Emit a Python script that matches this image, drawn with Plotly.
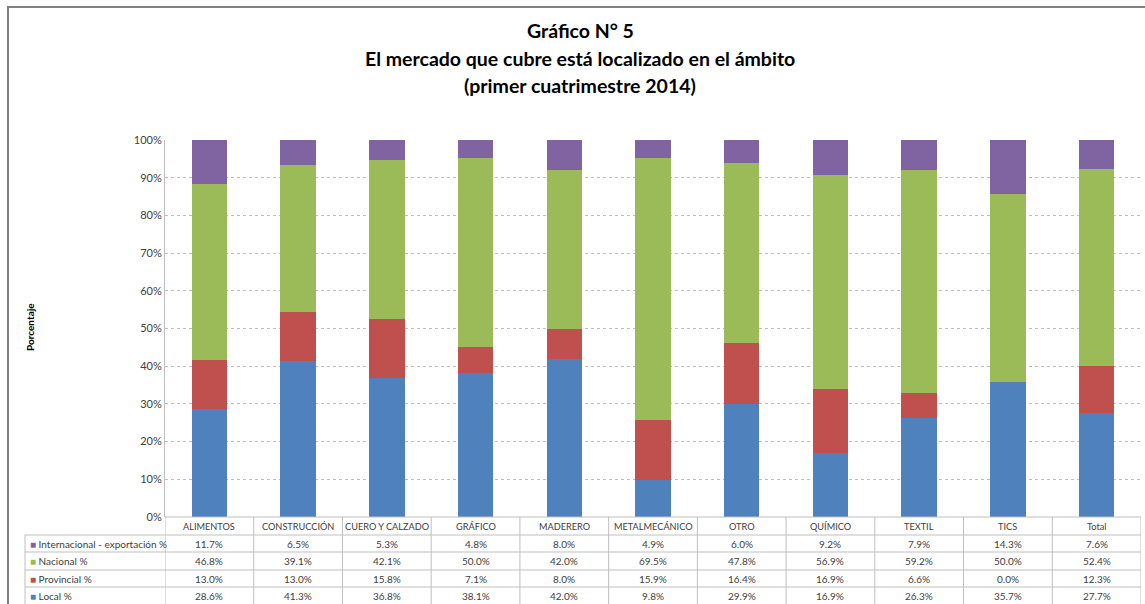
import plotly.graph_objects as go

categorias = ["ALIMENTOS", "CONSTRUCCIÓN", "CUERO Y CALZADO", "GRÁFICO", "MADERERO",
              "METALMECÁNICO", "OTRO", "QUÍMICO", "TEXTIL", "TICS", "Total"]
local = [28.6, 41.3, 36.8, 38.1, 42.0, 9.8, 29.9, 16.9, 26.3, 35.7, 27.7]
provincial = [13.0, 13.0, 15.8, 7.1, 8.0, 15.9, 16.4, 16.9, 6.6, 0.0, 12.3]
nacional = [46.8, 39.1, 42.1, 50.0, 42.0, 69.5, 47.8, 56.9, 59.2, 50.0, 52.4]
internacional = [11.7, 6.5, 5.3, 4.8, 8.0, 4.9, 6.0, 9.2, 7.9, 14.3, 7.6]

series = [
    ("Local %", local, "#4F81BD"),
    ("Provincial %", provincial, "#C0504D"),
    ("Nacional %", nacional, "#9BBB59"),
    ("Internacional - exportación %", internacional, "#8064A2"),
]

W, H = 1145, 604
ML, MR, MT, MB = 25, 4, 140, 0
pw = W - ML - MR
ph = H - MT - MB


def px(x):
    return (x - ML) / pw


def py(y):
    return (H - y) / ph


fig = go.Figure()
for nombre, vals, color in series:
    fig.add_trace(go.Bar(x=categorias, y=vals, name=nombre, marker_color=color,
                         marker_line_width=0, width=0.4, showlegend=False))

fig.update_layout(
    width=W, height=H,
    margin=dict(l=ML, r=MR, t=MT, b=MB, autoexpand=False),
    barmode="stack", barnorm="percent",
    plot_bgcolor="white", paper_bgcolor="white",
    font=dict(family="Lato, sans-serif", color="#404040"),
    xaxis=dict(domain=[px(165), 1], range=[-0.5, len(categorias) - 0.5],
               showticklabels=False, ticks="", showline=False, showgrid=False),
    yaxis=dict(domain=[py(517), 1], range=[0, 100], dtick=10, ticksuffix="%",
               showgrid=True, gridcolor="#BFBFBF", griddash="dot", gridwidth=1,
               showline=True, linecolor="#BFBFBF", linewidth=1,
               tickfont=dict(size=11, color="#404040"), zeroline=False, ticks=""),
)

# tabla de datos debajo del grafico
gris = "#BFBFBF"
fuente_tabla = dict(family="Lato, sans-serif", size=10, color="#404040")
fuente_cab = dict(family="Lato, sans-serif", size=9.2, color="#404040")
filas_y = [535, 552, 570, 587]
centros = [526, 544, 561, 578.5, 596]

for i, cat in enumerate(categorias):
    fig.add_annotation(text=cat, xref="x", yref="paper", x=i, y=py(centros[0]),
                       xanchor="center", yanchor="middle",
                       showarrow=False, font=fuente_cab)

for r, (nombre, vals, color) in enumerate(reversed(series)):
    yc = py(centros[r + 1])
    fig.add_annotation(text="<span style='color:%s'>■</span> %s" % (color, nombre),
                       xref="paper", yref="paper", x=px(28), y=yc,
                       xanchor="left", yanchor="middle",
                       showarrow=False, font=fuente_tabla)
    for i, v in enumerate(vals):
        fig.add_annotation(text="%.1f%%" % v, xref="x", yref="paper", x=i, y=yc,
                           xanchor="center", yanchor="middle",
                           showarrow=False, font=fuente_tabla)

# lineas de la tabla
fig.add_shape(type="line", xref="x", yref="paper", x0=-0.5, x1=len(categorias) - 0.5,
              y0=py(517), y1=py(517), line=dict(color=gris, width=1))
for yl in filas_y:
    fig.add_shape(type="line", xref="paper", yref="paper", x0=px(25), x1=1,
                  y0=py(yl), y1=py(yl), line=dict(color=gris, width=1))
fig.add_shape(type="line", xref="paper", yref="paper", x0=px(25), x1=px(25),
              y0=py(535), y1=0, line=dict(color=gris, width=1))
for k in range(len(categorias) + 1):
    fig.add_shape(type="line", xref="x", yref="paper", x0=k - 0.5, x1=k - 0.5,
                  y0=py(517), y1=0, line=dict(color=gris, width=1))

titulos = ["Gráfico N° 5", "El mercado que cubre está localizado en el ámbito",
           "(primer cuatrimestre 2014)"]
for k, t in enumerate(titulos):
    fig.add_annotation(text="<b>%s</b>" % t, xref="paper", yref="paper",
                       x=px(580), y=py(30 + 28 * k), showarrow=False,
                       xanchor="center", yanchor="middle",
                       font=dict(family="Lato, sans-serif", size=19.5, color="black"))

fig.add_annotation(text="<b>Porcentaje</b>", xref="paper", yref="paper",
                   x=px(30), y=py(327), showarrow=False, textangle=-90,
                   xanchor="center", yanchor="middle",
                   font=dict(family="Lato, sans-serif", size=10, color="black"))

# marco exterior del grafico
fig.add_shape(type="path", xref="paper", yref="paper",
              path="M %f,%f L %f,%f L %f,%f" % (px(8), py(610), px(8), py(7),
                                                px(1150), py(7)),
              line=dict(color="#808080", width=2))

# sin margen en el body para que el grafico quede en 0,0
fig.write_html("out.html", config={"displayModeBar": False},
               post_script="document.body.style.margin='0px';")
